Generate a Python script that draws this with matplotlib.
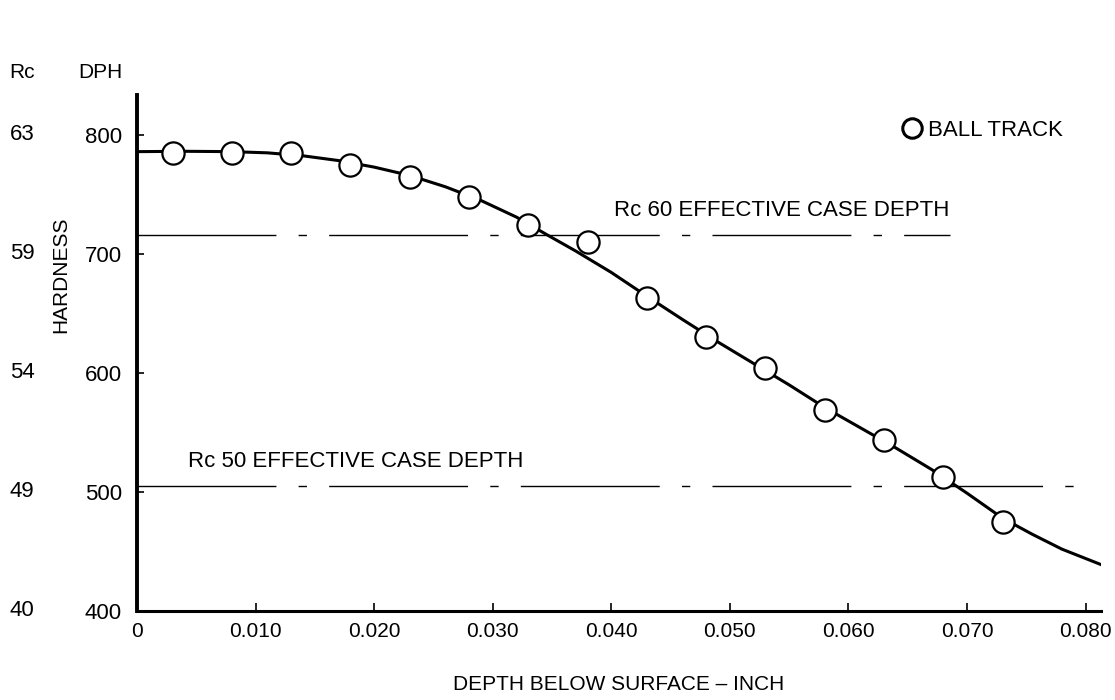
import matplotlib
matplotlib.use("Agg")
import matplotlib.pyplot as plt
from matplotlib.lines import Line2D
from matplotlib.transforms import blended_transform_factory

plt.rcParams['font.family'] = ['Liberation Sans', 'DejaVu Sans']

# ball track measurements
depth_pts = [0.003, 0.008, 0.013, 0.018, 0.023, 0.028, 0.033, 0.038,
             0.043, 0.048, 0.053, 0.058, 0.063, 0.068, 0.073]
hard_pts = [785, 785, 785, 775, 765, 748, 724, 710,
            663, 630, 604, 569, 544, 513, 475]

# faired curve
curve_x = [0.000, 0.004, 0.008, 0.011, 0.014, 0.017, 0.020, 0.023, 0.026,
           0.029, 0.032, 0.0346, 0.037, 0.040, 0.043, 0.046, 0.049, 0.052,
           0.055, 0.058, 0.061, 0.064, 0.067, 0.070, 0.073, 0.0755, 0.078,
           0.0813]
curve_y = [786, 786.3, 786, 785, 782.5, 778.5, 773, 766, 756.5,
           745, 731, 716, 702.5, 684.5, 664.5, 645, 626, 608,
           590, 571, 554, 537, 519, 499, 478, 464.5, 452,
           439]

# effective case depth levels (DPH) and where the lines stop
rc60_dph, rc60_end = 716, 0.0686
rc50_dph, rc50_end = 505, 0.0800

dph_ticks = [400, 500, 600, 700, 800]
rc_ticks = ['40', '49', '54', '59', '63']
x_ticks = [0, 0.010, 0.020, 0.030, 0.040, 0.050, 0.060, 0.070, 0.080]
x_labels = ['0', '0.010', '0.020', '0.030', '0.040', '0.050', '0.060', '0.070', '0.080']

fig = plt.figure(figsize=(11.15, 7.0), dpi=100)
ax = fig.add_axes([137/1115, 89/700, 964/1115, 516/700])

ax.plot(curve_x, curve_y, color='black', lw=2.2, zorder=2)
ax.plot(depth_pts, hard_pts, 'o', ms=16, mfc='white', mec='black', mew=1.6, zorder=3)

ax.plot([0, rc60_end], [rc60_dph, rc60_dph], color='black', lw=1.0,
        dashes=(100, 16, 6, 16), zorder=1)
ax.plot([0, rc50_end], [rc50_dph, rc50_dph], color='black', lw=1.0,
        dashes=(100, 16, 6, 16), zorder=1)
ax.text(0.0402, rc60_dph + 12, 'Rc 60 EFFECTIVE CASE DEPTH', fontsize=16, ha='left', va='bottom')
ax.text(0.0043, rc50_dph + 12, 'Rc 50 EFFECTIVE CASE DEPTH', fontsize=16, ha='left', va='bottom')

ax.set_xlim(0, 0.0813)
ax.set_ylim(400, 833.6)
ax.set_xticks(x_ticks)
ax.set_xticklabels(x_labels, fontsize=15)
ax.set_yticks(dph_ticks)
ax.set_yticklabels([str(v) for v in dph_ticks], fontsize=16)
ax.tick_params(axis='x', direction='in', length=6, width=1.2, pad=8)
ax.tick_params(axis='y', direction='in', length=5, width=1.2, pad=11)

for s in ['top', 'right']:
    ax.spines[s].set_visible(False)
ax.spines['left'].set_linewidth(2.8)
ax.spines['bottom'].set_linewidth(2.2)

# Rc scale beside the DPH scale
tr = blended_transform_factory(ax.transAxes, ax.transData)
for v, lab in zip(dph_ticks, rc_ticks):
    ax.text(-0.119, v, lab, transform=tr, fontsize=16, ha='center', va='center')
ax.text(-0.119, 1.043, 'Rc', transform=ax.transAxes, fontsize=15, ha='center', va='center')
ax.text(-0.038, 1.043, 'DPH', transform=ax.transAxes, fontsize=15, ha='center', va='center')

ax.set_ylabel('HARDNESS', fontsize=15)
ax.yaxis.set_label_coords(-0.0695, 0.651)
ax.set_xlabel('DEPTH BELOW SURFACE \u2013 INCH', fontsize=15)
ax.xaxis.set_label_coords(0.5, -0.125)

h = Line2D([], [], marker='o', ls='none', ms=14, mfc='white', mec='black', mew=2.2)
ax.legend([h], ['BALL TRACK'], loc='center left', bbox_to_anchor=(0.772, 0.932),
          frameon=False, fontsize=16, handletextpad=-0.3, borderaxespad=0)

fig.savefig('out.png', dpi=100)
